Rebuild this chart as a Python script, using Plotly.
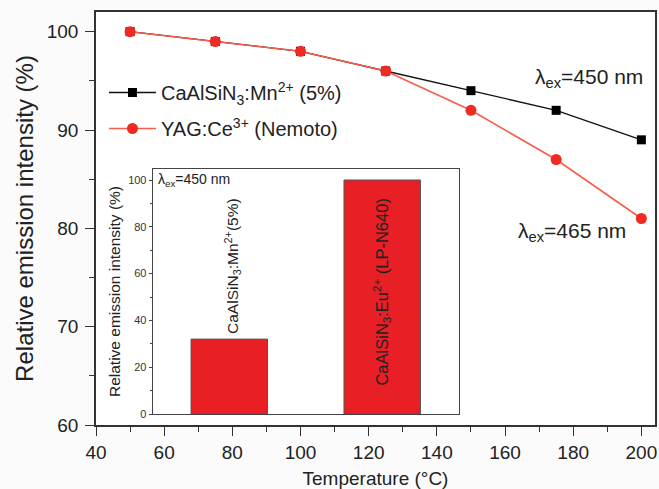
import plotly.graph_objects as go

# ---- data ----
temperature = [50, 75, 100, 125, 150, 175, 200]
casin_mn = [100, 99, 98, 96, 94, 92, 89]
yag_ce = [100, 99, 98, 96, 92, 87, 81]

inset_categories = ["CaAlSiN<sub>3</sub>:Mn<sup>2+</sup>(5%)",
                    "CaAlSiN<sub>3</sub>:Eu<sup>2+</sup> (LP-N640)"]
inset_values = [32, 100]

W, H = 659, 489
ML, MR, MT, MB = 96, 2, 12, 64
FONT = "Liberation Sans, Arial, sans-serif"

fig = go.Figure()

fig.add_trace(go.Scatter(
    x=temperature, y=casin_mn, mode="lines+markers",
    name="CaAlSiN<sub>3</sub>:Mn<sup>2+</sup> (5%)",
    line=dict(color="#111111", width=1.3),
    marker=dict(symbol="square", size=9, color="#000000"),
    legendgroup="a",
))
fig.add_trace(go.Scatter(
    x=temperature, y=yag_ce, mode="lines+markers",
    name="YAG:Ce<sup>3+</sup> (Nemoto)",
    line=dict(color="#fa5c48", width=1.6),
    marker=dict(symbol="circle", size=11, color="#ee2a22"),
    legendgroup="b",
))

# inset bars
fig.add_trace(go.Bar(
    x=[0, 1], y=inset_values, width=0.5,
    marker=dict(color="#e91f26", line=dict(color="#555555", width=1)),
    xaxis="x2", yaxis="y2", showlegend=False,
))

pw = W - ML - MR
ph = H - MT - MB
def px_x(p):
    return (p - ML) / pw
def px_y(p):
    return (H - MB - p) / ph

axis_common = dict(showline=True, linecolor="#333333", linewidth=1.5, mirror=True,
                   ticks="outside", ticklen=9, tickwidth=1.3, tickcolor="#333333",
                   showgrid=False, zeroline=False,
                   tickfont=dict(family=FONT, size=19, color="#222222"))

fig.update_layout(
    width=W, height=H,
    margin=dict(l=ML, r=MR, t=MT, b=MB),
    paper_bgcolor="#fbfbfb", plot_bgcolor="#ffffff",
    font=dict(family=FONT, color="#222222"),
    xaxis=dict(range=[40, 204], tickvals=[40, 60, 80, 100, 120, 140, 160, 180, 200],
               minor=dict(dtick=10, tick0=40, ticks="outside", ticklen=5, tickcolor="#333333"),
               ticklabelstandoff=0,
               title=dict(text="Temperature (°C)", font=dict(size=19), standoff=10),
               **axis_common),
    yaxis=dict(range=[60, 102], tickvals=[60, 70, 80, 90, 100],
               minor=dict(dtick=5, tick0=60, ticks="outside", ticklen=5, tickcolor="#333333"),
               ticklabelstandoff=3,
               title=dict(text="Relative emission intensity (%)", font=dict(size=24), standoff=6),
               **axis_common),
    xaxis2=dict(domain=[px_x(153), px_x(460)], anchor="y2", range=[-0.5, 1.5],
                showline=True, linecolor="#444444", linewidth=1.2, mirror=True,
                showticklabels=False, ticks="", showgrid=False, zeroline=False),
    yaxis2=dict(domain=[px_y(414), px_y(169)], anchor="x2", range=[0, 104.7],
                showline=True, linecolor="#444444", linewidth=1.2, mirror=True,
                tickvals=[0, 20, 40, 60, 80, 100], ticks="outside", ticklen=3,
                tickcolor="#444444", showgrid=False, zeroline=False,
                minor=dict(dtick=10, tick0=0, ticks="outside", ticklen=2, tickcolor="#444444"),
                tickfont=dict(family=FONT, size=11, color="#333333"),
                title=dict(text="Relative emission intensity (%)", font=dict(size=15.5), standoff=3)),
    legend=dict(x=px_x(104), y=px_y(73), xanchor="left", yanchor="top",
                bgcolor="rgba(0,0,0,0)", font=dict(family=FONT, size=20, color="#222222"),
                tracegroupgap=7, itemwidth=47),
    showlegend=True,
)

annotations = [
    dict(x=px_x(647), y=px_y(78), xref="paper", yref="paper", text="λ<sub>ex</sub>=450 nm",
         showarrow=False, xanchor="right", yanchor="middle", font=dict(size=21, color="#222222")),
    dict(x=px_x(630), y=px_y(232), xref="paper", yref="paper", text="λ<sub>ex</sub>=465 nm",
         showarrow=False, xanchor="right", yanchor="middle", font=dict(size=21, color="#222222")),
    dict(x=-0.48, y=100, xref="x2", yref="y2", text="λ<sub>ex</sub>=450 nm", showarrow=False,
         xanchor="left", yanchor="middle", font=dict(size=14, color="#222222")),
    dict(x=0.02, y=inset_values[0] + 1.5, xref="x2", yref="y2", text=inset_categories[0],
         showarrow=False, textangle=-90, xanchor="center", yanchor="bottom",
         font=dict(size=15.5, color="#222222")),
    dict(x=1.0, y=inset_values[1] / 2 + 2, xref="x2", yref="y2", text=inset_categories[1],
         showarrow=False, textangle=-90, xanchor="center", yanchor="middle",
         font=dict(size=16.5, color="#222222")),
]
fig.update_layout(annotations=annotations)

fig.write_html("out.html")
